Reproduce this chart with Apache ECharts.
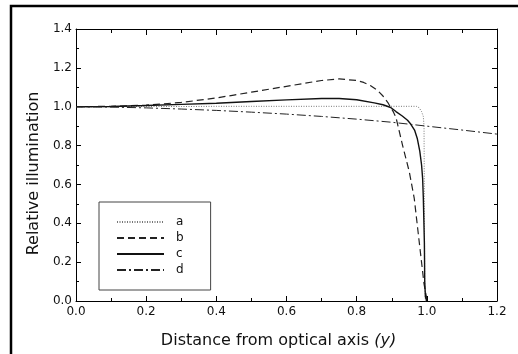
<!DOCTYPE html>
<html>
<head>
<meta charset="utf-8">
<script src="https://cdn.jsdelivr.net/npm/echarts@6/dist/echarts.min.js"></script>
<style>
  html, body { margin: 0; padding: 0; background: #fff; }
  #chart { width: 518px; height: 354px; }
</style>
</head>
<body>
<div id="chart"></div>
<script>
// curve a: dotted
const xA = [0, 0.1, 0.2, 0.3, 0.4, 0.5, 0.6, 0.7, 0.8, 0.9, 0.95, 0.97, 0.978, 0.985, 0.99, 0.992, 0.993, 0.994, 0.996, 1.0];
const yA = [1.0, 1.0, 1.001, 1.001, 1.002, 1.002, 1.002, 1.002, 1.002, 1.002, 1.002, 1.002, 0.995, 0.975, 0.95, 0.9, 0.5, 0.1, 0.0, 0.0];

// curve b: dashed
const xB = [0, 0.1, 0.2, 0.3, 0.4, 0.45, 0.5, 0.6, 0.7, 0.75, 0.8, 0.82, 0.84, 0.86, 0.875, 0.89, 0.897, 0.905, 0.912, 0.931, 0.95, 0.964, 0.978, 0.992, 0.999, 1.0];
const yB = [1.0, 1.002, 1.008, 1.022, 1.045, 1.06, 1.075, 1.105, 1.135, 1.143, 1.135, 1.125, 1.108, 1.083, 1.055, 1.018, 0.996, 0.972, 0.945, 0.8, 0.665, 0.53, 0.309, 0.088, 0.02, 0.0];

// curve c: solid
const xC = [0, 0.1, 0.2, 0.3, 0.4, 0.5, 0.6, 0.7, 0.75, 0.8, 0.85, 0.875, 0.897, 0.912, 0.93, 0.945, 0.954, 0.965, 0.973, 0.98, 0.985, 0.988, 0.99, 0.993, 0.994, 0.996, 1.0];
const yC = [1.0, 1.001, 1.006, 1.012, 1.018, 1.027, 1.035, 1.042, 1.042, 1.036, 1.02, 1.01, 0.996, 0.975, 0.952, 0.93, 0.911, 0.88, 0.835, 0.77, 0.7, 0.631, 0.53, 0.3, 0.1, 0.02, 0.0];

// curve d: dash-dot
const xD = [0, 0.1, 0.2, 0.3, 0.4, 0.5, 0.6, 0.7, 0.8, 0.9, 1.0, 1.1, 1.2];
const yD = [1.0, 0.998, 0.994, 0.988, 0.981, 0.972, 0.962, 0.95, 0.936, 0.92, 0.9, 0.88, 0.859];

const labels = ['a', 'b', 'c', 'd'];

const pairs = (xs, ys) => xs.map((x, i) => [x, ys[i]]);

const FONT = 'DejaVu Sans';

const chart = echarts.init(document.getElementById('chart'));

const tickCommon = {
  axisLine: { show: true, onZero: false, lineStyle: { color: '#000', width: 1 } },
  splitLine: { show: false },
};

const option = {
  animation: false,
  backgroundColor: '#fff',
  textStyle: { fontFamily: FONT },
  grid: { left: 76, right: 21, top: 29, bottom: 50 },
  legend: {
    orient: 'vertical',
    left: 99,
    top: 202,
    data: labels,
    itemWidth: 47,
    itemHeight: 14,
    itemGap: 2,
    padding: [13, 27, 13, 17],
    borderColor: '#444',
    borderWidth: 1,
    itemStyle: { opacity: 0 },
    textStyle: { fontFamily: FONT, fontSize: 12, color: '#111', padding: [0, 0, 0, 7], lineHeight: 14 },
  },
  xAxis: [
    {
      type: 'value',
      min: 0,
      max: 1.2,
      interval: 0.2,
      ...tickCommon,
      axisTick: { inside: true, length: 5, lineStyle: { color: '#000' } },
      minorTick: { show: true, splitNumber: 2, length: 3, lineStyle: { color: '#000' } },
      axisLabel: {
        fontFamily: FONT,
        fontSize: 12,
        color: '#111',
        margin: 5,
        formatter: (v) => v.toFixed(1),
      },
      name: 'Distance from optical axis {it|(y)}',
      nameLocation: 'middle',
      nameGap: 32,
      nameTextStyle: {
        fontFamily: FONT,
        fontSize: 16,
        color: '#111',
        padding: [0, 16, 0, 0],
        rich: { it: { fontFamily: FONT, fontSize: 16, fontStyle: 'italic', color: '#111' } },
      },
    },
    {
      type: 'value',
      position: 'top',
      min: 0,
      max: 1.2,
      interval: 0.2,
      ...tickCommon,
      axisTick: { inside: true, length: 6, lineStyle: { color: '#000' } },
      minorTick: { show: true, splitNumber: 2, length: 4, lineStyle: { color: '#000' } },
      axisLabel: { show: false },
    },
  ],
  yAxis: [
    {
      type: 'value',
      min: 0,
      max: 1.4,
      interval: 0.2,
      ...tickCommon,
      axisTick: { inside: true, length: 5, lineStyle: { color: '#000' } },
      minorTick: { show: true, splitNumber: 2, length: 3, lineStyle: { color: '#000' } },
      axisLabel: {
        fontFamily: FONT,
        fontSize: 12,
        color: '#111',
        margin: 4,
        formatter: (v) => v.toFixed(1),
      },
      name: 'Relative illumination',
      nameLocation: 'middle',
      nameGap: 31,
      nameTextStyle: {
        fontFamily: FONT,
        fontSize: 16,
        color: '#111',
        padding: [0, 17, 0, 0],
      },
    },
    {
      type: 'value',
      position: 'right',
      min: 0,
      max: 1.4,
      interval: 0.2,
      ...tickCommon,
      axisTick: { inside: true, length: 5, lineStyle: { color: '#000' } },
      minorTick: { show: true, splitNumber: 2, length: 3, lineStyle: { color: '#000' } },
      axisLabel: { show: false },
    },
  ],
  graphic: [
    {
      type: 'rect',
      silent: true,
      shape: { x: 11, y: 6, width: 700, height: 700 },
      style: { fill: 'none', stroke: '#000', lineWidth: 2.5 },
    },
  ],
  series: [
    {
      name: 'a',
      type: 'line',
      symbol: 'none',
      data: pairs(xA, yA),
      lineStyle: { color: '#777', width: 1, type: [1, 1.5] },
      itemStyle: { color: '#777' },
    },
    {
      name: 'b',
      type: 'line',
      symbol: 'none',
      data: pairs(xB, yB),
      lineStyle: { color: '#222', width: 1.2, type: [7, 4] },
      itemStyle: { color: '#222' },
    },
    {
      name: 'c',
      type: 'line',
      symbol: 'none',
      data: pairs(xC, yC),
      lineStyle: { color: '#111', width: 1.4, type: 'solid' },
      itemStyle: { color: '#111' },
    },
    {
      name: 'd',
      type: 'line',
      symbol: 'none',
      data: pairs(xD, yD),
      lineStyle: { color: '#222', width: 1, type: [9, 3, 2, 3] },
      itemStyle: { color: '#222' },
    },
  ],
};

chart.setOption(option);
</script>
</body>
</html>
